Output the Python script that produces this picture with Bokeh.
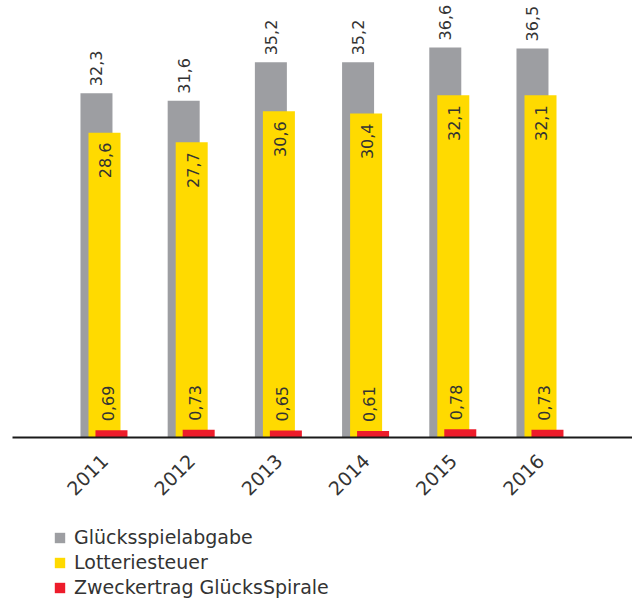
from math import pi
from bokeh.plotting import figure
from bokeh.layouts import column
from bokeh.models import FactorRange, Range1d, Legend, LegendItem, ColumnDataSource
from bokeh.transform import dodge
from bokeh.core.properties import value
from bokeh.embed import file_html
from bokeh.resources import INLINE

years = ["2011", "2012", "2013", "2014", "2015", "2016"]
gluecksspielabgabe = [32.3, 31.6, 35.2, 35.2, 36.6, 36.5]
lotteriesteuer = [28.6, 27.7, 30.6, 30.4, 32.1, 32.1]
zweckertrag = [0.69, 0.73, 0.65, 0.61, 0.78, 0.73]
series_names = ["Glücksspielabgabe", "Lotteriesteuer", "Zweckertrag GlücksSpirale"]
series_cols = ["g", "l", "z"]

GRAY = "#9d9ea2"
YELLOW = "#ffda00"
RED = "#ed1c2b"
TXT = "#333333"
FONT = "DejaVu Sans"
COLORS = [GRAY, YELLOW, RED]


def de(v, nd):
    return f"{v:.{nd}f}".replace(".", ",")


src = ColumnDataSource(dict(
    year=years,
    g=gluecksspielabgabe,
    l=lotteriesteuer,
    z=zweckertrag,
    gl=[de(v, 1) for v in gluecksspielabgabe],
    ll=[de(v, 1) for v in lotteriesteuer],
    zl=[de(v, 2) for v in zweckertrag],
))

MAIN_BOTTOM = 90
p = figure(
    x_range=FactorRange(*years, range_padding=0.185, range_padding_units="percent"),
    y_range=Range1d(0, 41.0),
    frame_width=620, frame_height=437,
    min_border_left=12, min_border_right=0, min_border_top=0, min_border_bottom=MAIN_BOTTOM,
    output_backend="svg", toolbar_location=None,
)

bw = 0.367
p.vbar(x=dodge("year", -0.092, range=p.x_range), top="g", width=bw, source=src,
       fill_color=GRAY, line_color=None)
p.vbar(x=dodge("year", 0.0, range=p.x_range), top="l", width=bw, source=src,
       fill_color=YELLOW, line_color=None)
p.vbar(x=dodge("year", 0.08, range=p.x_range), top="z", width=bw, source=src,
       fill_color=RED, line_color=None)

common = dict(source=src, angle=pi / 2, text_font=value(FONT), text_font_size="16px",
              text_color=TXT, text_baseline="middle")
p.text(x=dodge("year", -0.092, range=p.x_range), y="g", text="gl",
       text_align="left", y_offset=-7, **common)
p.text(x=dodge("year", 0.01, range=p.x_range), y="l", text="ll",
       text_align="right", y_offset=10, **common)
p.text(x=dodge("year", 0.035, range=p.x_range), y="z", text="zl",
       text_align="left", y_offset=-9, **common)

p.yaxis.visible = False
p.xgrid.visible = False
p.ygrid.visible = False
p.outline_line_color = None
p.background_fill_color = None
p.border_fill_color = None

ax = p.xaxis[0]
ax.axis_line_color = "#1a1a1a"
ax.axis_line_width = 2
ax.major_tick_line_color = None
ax.minor_tick_line_color = None
ax.major_label_orientation = pi / 4
ax.major_label_text_font = FONT
ax.major_label_text_font_size = "19px"
ax.major_label_text_color = TXT
ax.major_label_standoff = 14

# legend panel below the chart
LEG_H = 600 - 437 - MAIN_BOTTOM
lg = figure(
    x_range=Range1d(0, 1), y_range=Range1d(0, 1),
    frame_width=620, frame_height=LEG_H,
    min_border_left=12, min_border_right=0, min_border_top=0, min_border_bottom=0,
    output_backend="svg", toolbar_location=None,
)
lg.axis.visible = False
lg.grid.visible = False
lg.outline_line_color = None
lg.background_fill_color = None
lg.border_fill_color = None

# hidden renderers (same data) that only supply the legend swatches
swatch_renderers = []
for c, col in zip(COLORS, series_cols):
    r = lg.vbar(x=0.5, top=col, width=0.1, source=src, fill_color=c, line_color=None)
    r.visible = False
    swatch_renderers.append(r)

legend = Legend(
    items=[LegendItem(label=n, renderers=[r]) for n, r in zip(series_names, swatch_renderers)],
    location=(41, 2), orientation="vertical",
    glyph_width=13, glyph_height=13, label_standoff=8,
    label_text_font=FONT, label_text_font_size="19px", label_text_color=TXT,
    spacing=3, padding=0, margin=0,
    border_line_color=None, background_fill_alpha=0,
    inactive_fill_alpha=0, click_policy="none",
)
lg.add_layout(legend, "center")

layout = column(p, lg, spacing=0)
open("out.html", "w").write(file_html(layout, INLINE))
